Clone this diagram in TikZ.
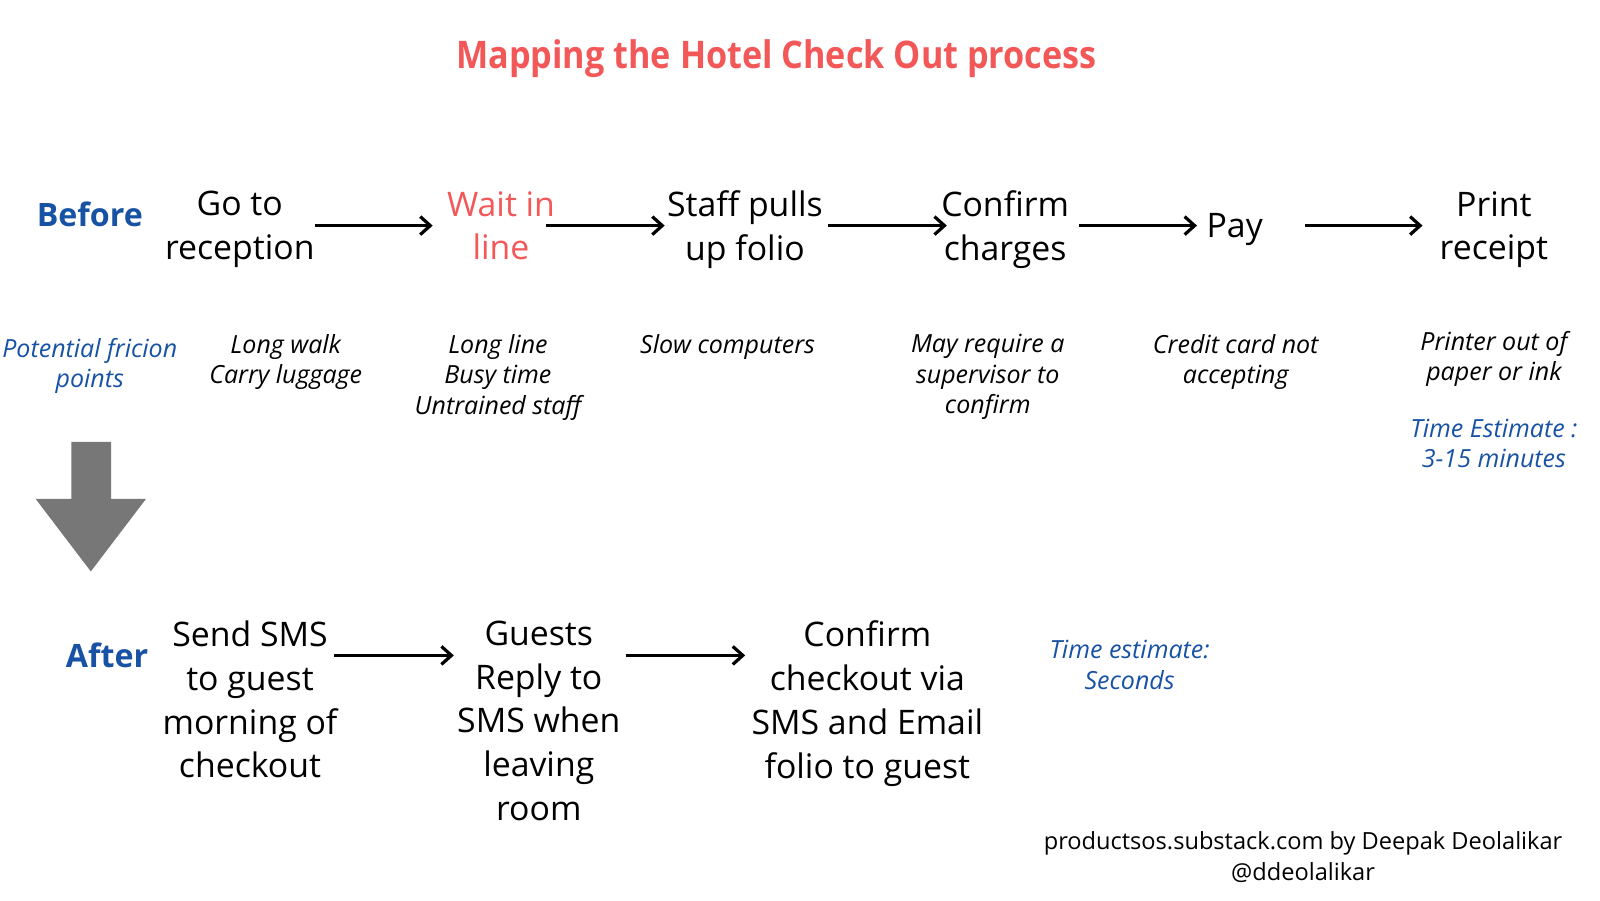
\documentclass[tikz,border=0pt]{standalone}
\usepackage{fontspec}
\usepackage{graphicx}
\setmainfont{Open Sans}
\usetikzlibrary{arrows.meta}

\definecolor{titlered}{RGB}{242,88,88}
\definecolor{labelblue}{RGB}{24,82,164}
\definecolor{bigarrow}{RGB}{119,119,119}

\tikzset{
    stepnode/.style={align=center, inner sep=0pt,
        font=\fontsize{16.9}{21.9}\selectfont},
    notenode/.style={align=center, inner sep=0pt, anchor=north,
        font=\fontsize{12.5}{15.3}\selectfont\itshape},
    rowlabel/.style={text=labelblue, inner sep=0pt,
        font=\fontsize{16.1}{18}\selectfont\bfseries},
    flow/.style={-{Straight Barb[length=5pt,width=9pt]}, line width=1.6pt},
}

\begin{document}
\begin{tikzpicture}[x=0.5102pt,y=-0.5102pt]

    \useasboundingbox (0,0) rectangle (1568,882);

    % Title
    \node[text=titlered,
        font=\fontsize{19}{22}\selectfont\bfseries] (title) at (761,57)
        {\scalebox{0.9}[1]{Mapping the Hotel Check Out process}};

    % Before row
    \node[rowlabel] (before) at (88,210){Before};
    \node[stepnode] (go) at (235,225){Go to \\ reception};
    \node[stepnode, text=titlered, text depth=4.1pt] (wait) at (491,225){Wait in \\ line};
    \node[stepnode] (staff) at (730,225){Staff pulls \\ up folio};
    \node[stepnode] (confirm) at (985,225){Confirm \\ charges};
    \node[stepnode] (pay) at (1210,225){Pay};
    \node[stepnode] (print) at (1464,225){Print \\ receipt};

    \draw[flow, shorten >=7pt] ([yshift=2pt]go.east) -- ([yshift=2pt]wait.west);
    \draw[flow, shorten <=-4.8pt, shorten >=1pt] ([yshift=2pt]wait.east) -- ([yshift=2pt]staff.west);
    \draw[flow, shorten <=2.5pt, shorten >=-3pt] ([yshift=2pt]staff.east) -- ([yshift=2pt]confirm.west);
    \draw[flow, shorten <=5pt, shorten >=4.6pt] ([yshift=2pt]confirm.east) -- ([yshift=2pt]pay.west);
    \draw[flow, shorten <=21pt, shorten >=8.4pt] ([yshift=2pt]pay.east) -- ([yshift=2pt]print.west);

    % Friction points
    \node[notenode, text=labelblue] (friction) at (88,331){Potential fricion \\ points};
    \node[notenode] (walk) at (280,327){Long walk \\ Carry luggage};
    \node[notenode] (line) at (488,327){Long line \\ Busy time \\ Untrained staff};
    \node[notenode] (slow) at (713,327){Slow computers};
    \node[notenode] (super) at (968,327){May require a \\ supervisor to \\ confirm};
    \node[notenode] (card) at (1211,327){Credit card not \\ accepting};
    \node[notenode] (printer) at (1464,324){Printer out of \\ paper or ink};
    \node[notenode, text=labelblue] (timebefore) at (1464,410){Time Estimate : \\ 3-15 minutes};

    % Big arrow down
    \fill[bigarrow] (70,433) -- (109,433) -- (109,489) -- (143,489)
        -- (89,560) -- (35,489) -- (70,489) -- cycle;

    % After row
    \node[rowlabel] (after) at (105,642){After};
    \node[stepnode, anchor=north] (send) at (245,608){Send SMS \\ to guest \\ morning of \\ checkout};
    \node[stepnode, anchor=north] (guests) at (528,608){Guests \\ Reply to \\ SMS when \\ leaving \\ room};
    \node[stepnode, anchor=north] (confirmsms) at (850,608){Confirm \\ checkout via \\ SMS and Email \\ folio to guest};

    \draw[flow, shorten <=-1.8pt, shorten >=1.5pt] ([yshift=-17.5pt]send.north east) -- ([yshift=-17.5pt]guests.north west);
    \draw[flow, shorten <=2.5pt, shorten >=3pt] ([yshift=-17.5pt]guests.north east) -- ([yshift=-17.5pt]confirmsms.north west);

    \node[notenode, text=labelblue] (timeafter) at (1107,627){Time estimate: \\ Seconds};

    % Footer
    \node[notenode, font=\fontsize{11.8}{15.3}\selectfont] (footer) at (1277,815)
        {productsos.substack.com by Deepak Deolalikar \\ @ddeolalikar};

\end{tikzpicture}
\end{document}
